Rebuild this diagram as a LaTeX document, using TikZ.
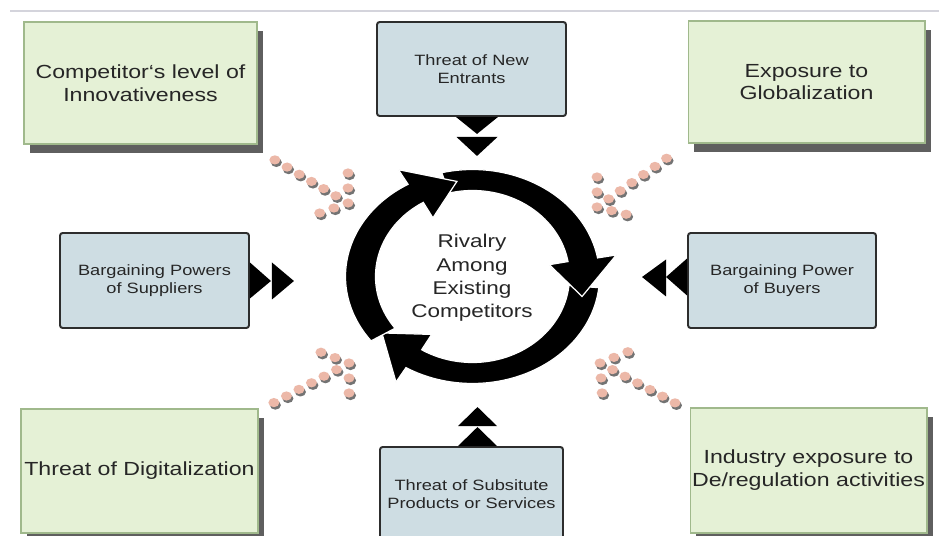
\documentclass[tikz,border=0pt]{standalone}
\usepackage{fontspec}
\setmainfont{Liberation Sans}[FakeStretch=1.22]
\usetikzlibrary{shadows,calc}

\definecolor{greenfill}{RGB}{229,241,214}
\definecolor{greenline}{RGB}{160,185,140}
\definecolor{bluefill}{RGB}{206,221,227}
\definecolor{blueline}{RGB}{45,45,45}
\definecolor{boxshadow}{RGB}{95,95,95}
\definecolor{dotfill}{RGB}{236,184,168}
\definecolor{dotshadow}{RGB}{115,115,115}
\definecolor{txt}{RGB}{38,38,38}
\definecolor{rulegray}{RGB}{212,212,220}

% one salmon dot with its small drop shadow
\newcommand{\pebble}[2]{%
  \fill[dotshadow] ({#1+1.5},{#2+2.5}) ellipse [x radius=5.5, y radius=4.6];
  \fill[dotfill] ({#1},{#2}) ellipse [x radius=5.5, y radius=4.6];}

% dotted arrow: tip x, tip y, shaft angle, arm angle 1, arm angle 2
\newcommand{\dotarrow}[5]{%
  \foreach \k in {6,5,4,3,2,1} {\pebble{#1+14.15*\k*cos(#3)}{#2+14.15*\k*sin(#3)}}
  \foreach \k in {2,1} {\pebble{#1+15*\k*cos(#4)}{#2+15*\k*sin(#4)}}
  \foreach \k in {2,1} {\pebble{#1+15*\k*cos(#5)}{#2+15*\k*sin(#5)}}
  \pebble{#1}{#2}}

% one curved segment of the cycle: start angle, head base angle, tip angle
\newcommand{\ringarrow}[3]{%
  \filldraw[fill=black, draw=white, line width=0.7pt, line join=miter]
    plot[domain=#1:#2, samples=60] ({472.5+127*cos(\x)},{276.5+107*sin(\x)})
    -- ({472.5+146*cos(#2)},{276.5+124*sin(#2)})
    -- ({472.5+112*cos(#3)},{276.5+96*sin(#3)})
    -- ({472.5+78*cos(#2)},{276.5+68*sin(#2)})
    -- plot[domain=#2:#1, samples=60] ({472.5+97*cos(\x)},{276.5+86*sin(\x)})
    -- cycle;}

\begin{document}
\begin{tikzpicture}[x=0.02cm,y=-0.02cm,
  greenbox/.style={draw=greenline, line width=0.6pt, fill=greenfill, text=txt,
    align=center, inner sep=0pt, font=\fontsize{10.8}{13}\selectfont,
    general shadow={fill=boxshadow, shadow xshift=0.12cm, shadow yshift=-0.18cm}},
  bluebox/.style={draw=blueline, line width=1.1pt, rounded corners=1.5pt,
    fill=bluefill, text=txt, align=center, inner sep=0pt,
    font=\fontsize{8.5}{10.2}\selectfont},
  tri/.style={fill=black}]

\useasboundingbox (0,0) rectangle (939,536);
\fill[white] (0,0) rectangle (939,536);
\draw[rulegray, line width=1pt] (10,11) -- (939,11);

% outer factor boxes
\node[greenbox, minimum width=4.66cm, minimum height=2.44cm] (innov) at (140.5,83)
  {Competitor‘s level of\\Innovativeness};
\node[greenbox, minimum width=4.74cm, minimum height=2.44cm] (global) at (806.5,82)
  {Exposure to\\Globalization};
\node[greenbox, minimum width=4.74cm, minimum height=2.48cm] (digital) at (139.5,471)
  {Threat of Digitalization};
\node[greenbox, minimum width=4.74cm, minimum height=2.5cm] (dereg) at (808.5,470.5)
  {Industry exposure to\\De/regulation activities};

% five forces
\node[bluebox, minimum width=3.78cm, minimum height=1.88cm] (entrants) at (471.5,69)
  {Threat of New\\Entrants};
\node[bluebox, minimum width=3.78cm, minimum height=1.9cm] (suppliers) at (154.5,280.5)
  {Bargaining Powers\\of Suppliers};
\node[bluebox, minimum width=3.76cm, minimum height=1.9cm] (buyers) at (782,280.5)
  {Bargaining Power\\of Buyers};
\node[bluebox, minimum width=3.66cm, minimum height=1.9cm] (substitutes) at (471.5,494.5)
  {Threat of Subsitute\\Products or Services};

% double pointers from each force towards the cycle
\fill[tri] ($(entrants.south)+(-15.5,0)$) -- ($(entrants.south)+(26.5,0)$) -- ($(entrants.south)+(5.5,17)$) -- cycle;
\fill[tri] ($(entrants.south)+(-15,20)$) -- ($(entrants.south)+(26,20)$) -- ($(entrants.south)+(5.5,39)$) -- cycle;
\fill[tri] ($(substitutes.north)+(-13.5,0)$) -- ($(substitutes.north)+(25.5,0)$) -- ($(substitutes.north)+(6,-19)$) -- cycle;
\fill[tri] ($(substitutes.north)+(-13.5,-20)$) -- ($(substitutes.north)+(25.5,-20)$) -- ($(substitutes.north)+(6,-39)$) -- cycle;
\fill[tri] ($(suppliers.east)+(0,-18)$) -- ($(suppliers.east)+(0,18)$) -- ($(suppliers.east)+(21,0.5)$) -- cycle;
\fill[tri] ($(suppliers.east)+(22,-18)$) -- ($(suppliers.east)+(22,19)$) -- ($(suppliers.east)+(44,0.5)$) -- cycle;
\fill[tri] ($(buyers.west)+(0,-22)$) -- ($(buyers.west)+(0,15)$) -- ($(buyers.west)+(-21,-3.5)$) -- cycle;
\fill[tri] ($(buyers.west)+(-21,-21)$) -- ($(buyers.west)+(-21,16)$) -- ($(buyers.west)+(-45,-3.5)$) -- cycle;

% dotted arrows from the corner factors
\dotarrow{348}{203}{210.5}{270}{160.5}
\dotarrow{597}{207}{325}{270}{14}
\dotarrow{349}{363}{152.2}{201}{90}
\dotarrow{600}{363}{28}{338}{86}

% the rivalry cycle
\ringarrow{6}{121.6}{144}
\ringarrow{256}{350}{372}
\ringarrow{143}{239.5}{262}

\node[text=txt, align=center, inner sep=0pt, font=\fontsize{10.5}{13.2}\selectfont]
  (rivalry) at (472,278) {Rivalry\\Among\\Existing\\Competitors};
\end{tikzpicture}
\end{document}
